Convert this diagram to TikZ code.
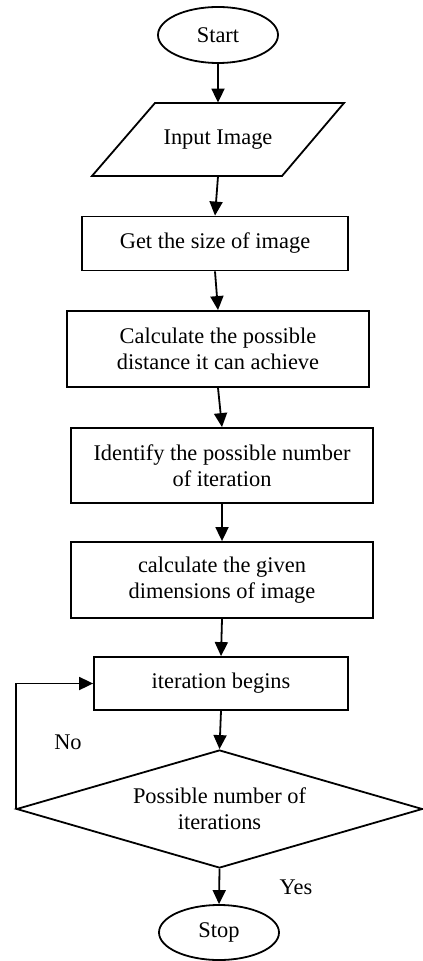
\documentclass[tikz,border=0pt]{standalone}
\usepackage{fontspec}
\setmainfont{Liberation Serif}
\usetikzlibrary{shapes.geometric,arrows.meta}
\begin{document}
\begin{tikzpicture}[x=0.5pt,y=-0.5pt,
  every node/.style={font=\fontsize{11.2}{12.8}\selectfont, align=center, inner sep=0pt},
  term/.style={draw, ellipse, line width=0.9pt, minimum width=60pt, minimum height=28pt},
  procbox/.style={draw, rectangle, line width=0.9pt},
  decbox/.style={draw, diamond, aspect=3.44, line width=0.9pt, minimum width=203pt, minimum height=59pt},
  shapeline/.style={line width=0.9pt, line join=miter},
  arr/.style={line width=0.9pt, -{Triangle[length=7pt,width=6.5pt]}}]
\useasboundingbox (0,0) rectangle (422,961);
\node[term] (start) at (218,35) {Start};
\node[minimum width=94.5pt, minimum height=36.5pt] (inp) at (218,139.5) {Input Image};
\draw[shapeline] (155,103) -- (344,103) -- (282,176) -- (92,176) -- cycle;
\node[procbox, minimum width=133pt, minimum height=27pt] (b1) at (215,243.5) {Get the size of image};
\node[procbox, minimum width=151pt, minimum height=38pt] (b2) at (218,349) {Calculate the possible\\distance it can achieve};
\node[procbox, minimum width=151pt, minimum height=37.5pt] (b3) at (222,465.5) {Identify the possible number\\of iteration};
\node[procbox, minimum width=151pt, minimum height=38pt] (b4) at (222,580) {calculate the given\\dimensions of image};
\node[procbox, minimum width=127pt, minimum height=26.5pt] (b5) at (221,683.5) {iteration begins};
\node[decbox] (dec) at (219.5,809) {Possible number of\\iterations};
\node[term, minimum height=27.5pt] (stop) at (219,932.5) {Stop};
\node (no) at (68,742) {No};
\node (yes) at (296,887) {Yes};
\draw[arr] (start.south) -- (inp.north);
\draw[arr] (inp.south) -- (b1.north);
\draw[arr] (b1.south) -- (b2.north);
\draw[arr] (b2.south) -- (b3.north);
\draw[arr] (b3.south) -- (b4.north);
\draw[arr] (b4.south) -- (b5.north);
\draw[arr] (b5.south) -- (dec.north);
\draw[arr] (dec.south) -- (stop.north);
\draw[arr] (dec.west) |- (b5.west);
\end{tikzpicture}
\end{document}
